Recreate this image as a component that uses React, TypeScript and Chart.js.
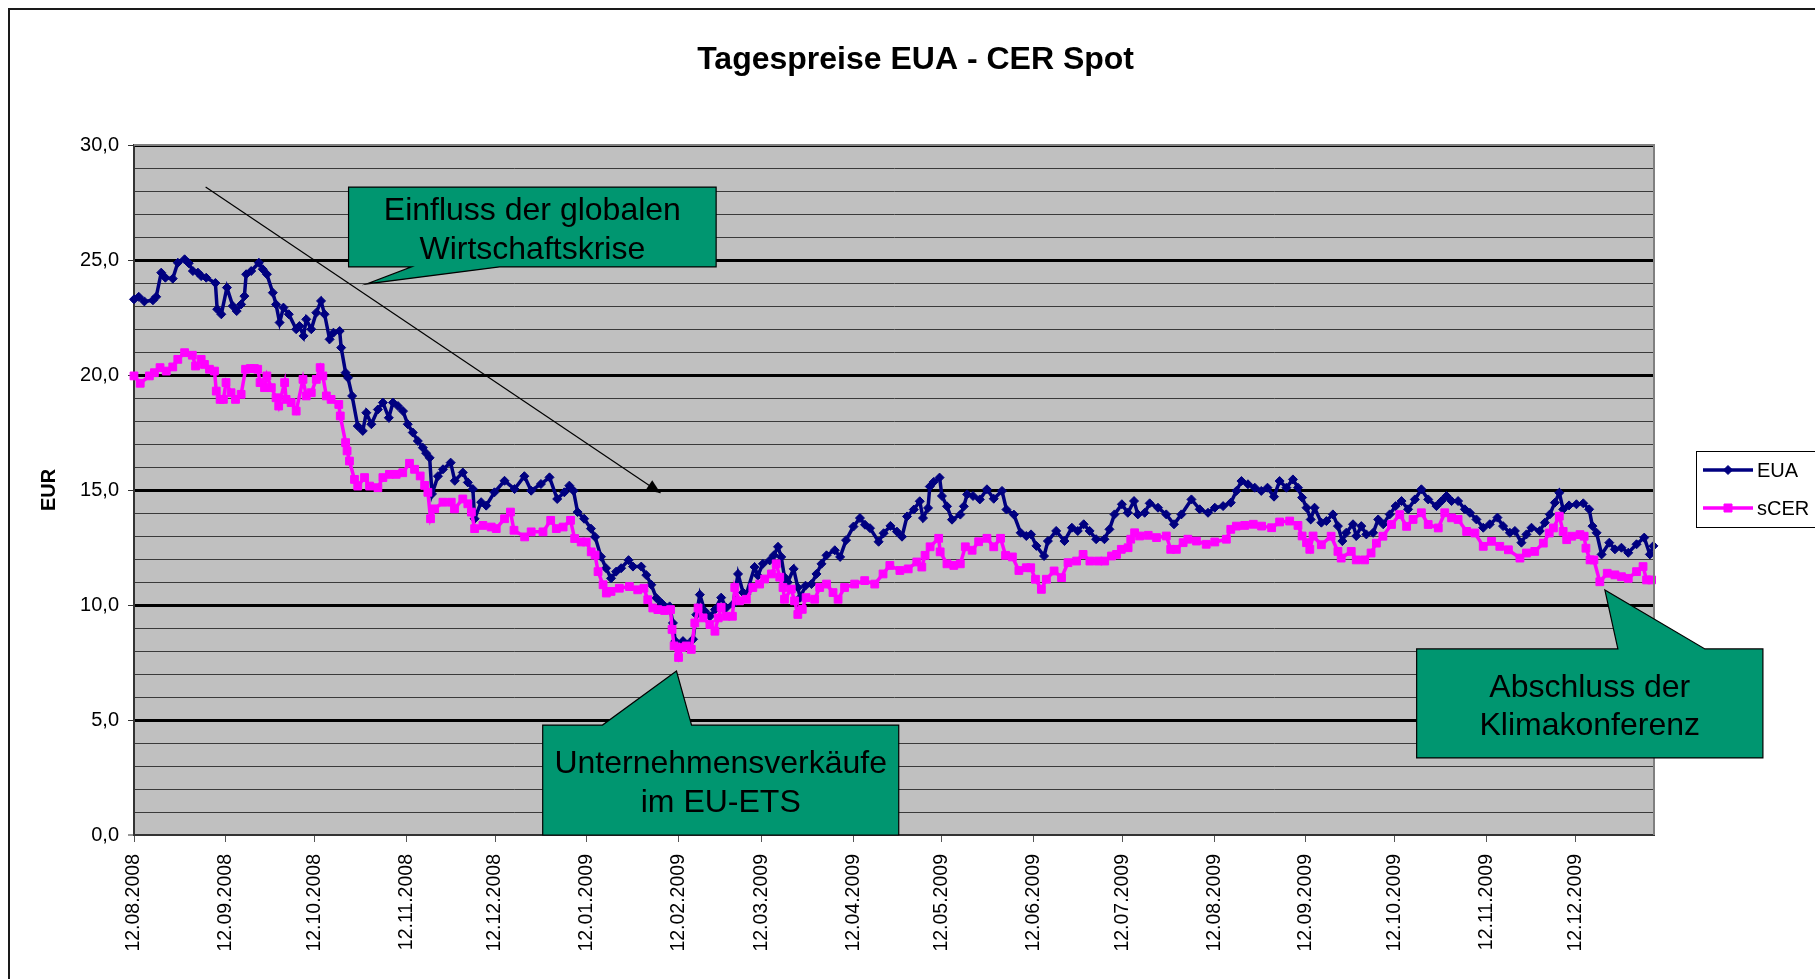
import React, { useEffect, useRef } from 'react';
import { Chart, registerables } from 'chart.js';

Chart.register(...registerables);

// ---------------- data ----------------
const tickLabels = [
  '12.08.2008', '12.09.2008', '12.10.2008', '12.11.2008', '12.12.2008',
  '12.01.2009', '12.02.2009', '12.03.2009', '12.04.2009', '12.05.2009',
  '12.06.2009', '12.07.2009', '12.08.2009', '12.09.2009', '12.10.2009',
  '12.11.2009', '12.12.2009',
];

// days after 12.08.2008
const euaDays = [
  0, 1.6, 3.5, 6.4, 7.5, 9.2, 10.6, 13.1, 14.8, 17.1, 18.5, 19.9, 21.6, 22.7, 24.4, 27.5, 28.1, 29.5, 31.4, 33.4,
  34.7, 36.2, 37.3, 37.9, 39.6, 42.2, 43.5, 44.9, 46.9, 48.0, 49.2, 50.5, 52.3, 54.8, 55.9, 57.3, 58.2, 59.9, 61.6, 63.2,
  64.4, 66.1, 67.4, 69.5, 70.0, 71.5, 72.3, 73.7, 75.6, 77.3, 78.5, 80.2, 82.4, 84.1, 86.1, 87.5, 89.2, 90.9, 92.5, 94.2,
  95.9, 97.6, 98.7, 99.9, 100.7, 102.7, 104.4, 107.0, 108.4, 111.1, 112.8, 114.5, 115.1, 117.3, 119.0, 121.8, 125.2, 128.6, 131.9, 134.2,
  137.5, 140.4, 143.0, 145.4, 147.1, 148.5, 149.9, 152.1, 154.4, 155.8, 157.8, 159.5, 161.2, 162.9, 164.6, 167.1, 168.6, 171.4, 173.1, 174.8,
  176.5, 178.2, 181.0, 182.1, 182.9, 184.4, 185.5, 187.2, 188.9, 190.0, 191.2, 192.9, 194.6, 196.3, 198.4, 200.1, 202.4, 204.1, 205.8, 206.9,
  209.7, 210.8, 212.5, 214.8, 216.2, 217.6, 218.7, 219.8, 220.9, 222.9, 224.3, 225.1, 226.9, 228.9, 230.6, 232.3, 234.0, 236.8, 238.6, 240.6,
  243.1, 245.3, 247.0, 248.7, 251.6, 253.3, 255.6, 257.8, 259.5, 261.2, 263.5, 265.5, 266.6, 268.3, 268.9, 270.2, 272.2, 273.0, 274.7, 276.4,
  279.2, 280.4, 281.5, 283.5, 285.8, 288.2, 290.5, 293.3, 294.8, 297.3, 299.6, 301.5, 303.1, 304.9, 307.5, 308.8, 311.6, 314.4, 316.9, 318.9,
  320.9, 322.9, 325.1, 327.9, 329.6, 331.3, 333.8, 335.8, 337.9, 339.2, 341.5, 343.2, 346.0, 348.8, 351.4, 353.9, 357.3, 360.1, 362.9, 365.2,
  368.0, 370.6, 372.5, 374.2, 376.4, 378.7, 380.9, 383.0, 385.2, 387.1, 389.4, 391.6, 393.3, 394.7, 396.2, 397.6, 398.9, 401.2, 402.9, 405.1,
  406.8, 408.3, 409.6, 411.9, 413.0, 414.7, 416.4, 418.7, 420.4, 422.1, 424.3, 426.3, 428.3, 430.5, 432.8, 435.0, 437.3, 440.1, 441.8, 443.5,
  445.2, 447.4, 449.7, 451.4, 453.6, 455.9, 458.1, 460.7, 462.6, 464.9, 466.6, 468.8, 470.5, 472.2, 475.0, 476.7, 478.4, 480.1, 481.6, 482.9,
  484.9, 487.4, 489.7, 491.7, 492.8, 494.2, 495.9, 498.5, 500.4, 502.6, 504.9, 507.7, 510.3, 512.2, 513.4,
];
const euaValues = [
  23.29, 23.40, 23.20, 23.25, 23.40, 24.45, 24.23, 24.19, 24.88, 25.03, 24.86, 24.52, 24.45, 24.30, 24.23, 24.00, 22.86, 22.64, 23.80, 23.00,
  22.78, 23.07, 23.43, 24.38, 24.52, 24.88, 24.60, 24.38, 23.58, 23.07, 22.28, 22.93, 22.64, 21.99, 22.13, 21.70, 22.42, 21.99, 22.71, 23.22,
  22.64, 21.55, 21.84, 21.91, 21.19, 20.10, 19.88, 19.09, 17.78, 17.57, 18.36, 17.86, 18.50, 18.80, 18.14, 18.80, 18.65, 18.43, 17.86, 17.50,
  17.13, 16.84, 16.60, 16.40, 14.83, 15.60, 15.90, 16.19, 15.40, 15.76, 15.33, 15.04, 13.75, 14.47, 14.32, 14.90, 15.40, 15.04, 15.60, 14.97,
  15.26, 15.55, 14.61, 14.90, 15.19, 14.97, 14.04, 13.75, 13.32, 12.96, 12.10, 11.60, 11.16, 11.45, 11.60, 11.95, 11.67, 11.67, 11.30, 10.88,
  10.30, 10.09, 9.94, 9.22, 8.43, 8.07, 8.43, 8.29, 8.51, 9.58, 10.45, 9.73, 9.51, 9.80, 10.32, 9.88, 10.03, 11.35, 10.54, 10.47,
  11.65, 11.28, 11.79, 11.94, 12.16, 12.53, 12.09, 11.21, 10.99, 11.57, 10.76, 10.32, 10.84, 10.91, 11.35, 11.79, 12.16, 12.38, 12.09, 12.82,
  13.41, 13.78, 13.49, 13.34, 12.75, 13.12, 13.44, 13.19, 12.97, 13.85, 14.15, 14.51, 13.78, 14.22, 15.15, 15.35, 15.54, 14.74, 14.29, 13.71,
  13.93, 14.29, 14.81, 14.74, 14.59, 15.03, 14.62, 14.96, 14.15, 13.93, 13.14, 13.00, 13.07, 12.57, 12.13, 12.78, 13.22, 12.78, 13.36, 13.22,
  13.51, 13.22, 12.86, 12.86, 13.29, 13.94, 14.38, 14.01, 14.52, 13.94, 14.01, 14.42, 14.23, 13.94, 13.51, 13.94, 14.59, 14.16, 14.01, 14.23,
  14.30, 14.45, 14.96, 15.39, 15.25, 15.10, 14.96, 15.10, 14.71, 15.39, 15.10, 15.46, 15.10, 14.67, 14.23, 13.72, 14.23, 13.58, 13.65, 13.94,
  13.43, 12.78, 13.14, 13.51, 13.00, 13.43, 13.07, 13.14, 13.72, 13.51, 13.94, 14.30, 14.52, 14.16, 14.59, 15.03, 14.59, 14.30, 14.52, 14.74,
  14.52, 14.52, 14.16, 14.01, 13.72, 13.36, 13.51, 13.80, 13.43, 13.14, 13.22, 12.71, 13.07, 13.36, 13.22, 13.58, 13.94, 14.45, 14.88, 14.16,
  14.33, 14.38, 14.42, 14.16, 13.43, 13.14, 12.20, 12.71, 12.42, 12.49, 12.27, 12.64, 12.93, 12.20, 12.57,
];

const cerDays = [
  0, 2.1, 5.2, 6.9, 8.8, 10.9, 13.1, 14.8, 17.1, 19.7, 20.8, 22.7, 23.8, 25.5, 27.2, 27.8, 29.1, 30.2, 31.1, 32.8,
  34.3, 36.2, 37.7, 39.3, 40.7, 41.8, 42.6, 44.1, 44.9, 46.4, 48.0, 48.9, 50.9, 51.4, 53.1, 54.8, 57.1, 58.2, 59.9, 61.6,
  62.9, 63.8, 65.0, 66.6, 69.2, 69.7, 71.5, 72.0, 72.8, 74.5, 75.6, 77.9, 79.6, 82.4, 84.1, 86.3, 88.6, 90.8, 93.1, 94.8,
  96.7, 98.2, 99.3, 100.2, 101.6, 104.4, 107.2, 108.3, 111.1, 112.8, 114.0, 115.1, 117.9, 120.7, 122.4, 125.2, 127.2, 128.4, 132.0, 134.2,
  138.2, 140.8, 142.7, 145.0, 147.5, 148.9, 151.1, 152.8, 154.5, 155.8, 156.8, 158.5, 159.6, 161.2, 164.0, 167.4, 170.2, 172.3, 173.6, 175.3,
  177.0, 179.3, 181.3, 181.8, 182.5, 184.0, 185.0, 186.6, 188.3, 189.5, 190.6, 192.3, 194.6, 196.3, 197.4, 198.4, 200.1, 202.2, 203.0, 204.6,
  206.9, 209.1, 211.4, 213.1, 215.4, 217.0, 218.2, 219.3, 219.8, 222.1, 223.2, 224.3, 225.8, 227.1, 230.0, 231.7, 234.0, 236.2, 237.9, 240.1,
  243.5, 246.9, 250.3, 253.1, 255.4, 258.8, 261.6, 264.5, 266.2, 267.3, 269.0, 271.9, 272.4, 274.7, 277.0, 279.2, 280.9, 283.2, 285.4, 288.2,
  290.5, 292.8, 294.5, 296.8, 299.0, 301.5, 303.0, 304.6, 306.6, 308.3, 310.9, 313.4, 315.6, 318.5, 320.7, 323.0, 325.8, 328.0, 330.3, 332.0,
  333.6, 335.9, 336.8, 338.1, 339.8, 342.7, 345.5, 348.8, 350.3, 352.2, 354.5, 356.1, 359.0, 362.3, 365.2, 369.1, 370.6, 372.5, 375.3, 378.2,
  381.0, 384.4, 387.1, 390.5, 393.3, 394.7, 396.2, 397.3, 398.4, 401.2, 404.5, 406.8, 407.9, 411.3, 413.0, 415.8, 418.0, 419.8, 422.0, 424.9,
  427.7, 430.0, 432.2, 435.0, 437.3, 440.7, 442.9, 445.2, 447.4, 450.3, 453.1, 455.9, 458.7, 461.5, 464.4, 468.3, 470.5, 473.3, 476.2, 478.2,
  479.6, 481.6, 482.9, 484.1, 485.8, 488.6, 490.0, 490.6, 492.0, 493.3, 495.3, 497.8, 500.4, 502.6, 504.9, 507.7, 509.9, 511.1, 512.8,
];
const cerValues = [
  19.96, 19.64, 19.96, 20.10, 20.32, 20.17, 20.35, 20.68, 20.97, 20.86, 20.39, 20.68, 20.46, 20.25, 20.17, 19.30, 18.94, 18.94, 19.67, 19.23,
  18.94, 19.16, 20.25, 20.28, 20.28, 20.25, 19.67, 19.45, 19.96, 19.45, 19.01, 18.65, 19.67, 18.94, 18.80, 18.43, 19.81, 19.09, 19.23, 19.81,
  20.32, 19.96, 19.09, 18.94, 18.72, 18.22, 17.06, 16.70, 16.26, 15.46, 15.17, 15.54, 15.17, 15.10, 15.54, 15.68, 15.68, 15.75, 16.16, 15.90,
  15.61, 15.20, 14.90, 13.75, 14.18, 14.47, 14.47, 14.18, 14.61, 14.40, 14.04, 13.32, 13.46, 13.39, 13.32, 13.75, 14.04, 13.25, 12.96, 13.18,
  13.18, 13.68, 13.32, 13.39, 13.68, 12.89, 12.74, 12.74, 12.31, 12.17, 11.45, 10.88, 10.52, 10.59, 10.73, 10.80, 10.66, 10.73, 10.23, 9.87,
  9.80, 9.76, 9.80, 8.94, 8.22, 7.72, 8.15, 8.22, 8.07, 9.22, 9.87, 9.44, 9.15, 8.86, 9.44, 9.90, 9.51, 9.51, 10.76, 10.18,
  10.25, 10.76, 10.91, 11.13, 11.35, 11.79, 11.21, 10.76, 10.25, 10.69, 10.18, 9.59, 9.81, 10.32, 10.25, 10.76, 10.91, 10.54, 10.25, 10.76,
  10.91, 11.06, 10.91, 11.35, 11.72, 11.50, 11.57, 11.87, 11.65, 12.16, 12.53, 12.90, 12.31, 11.79, 11.72, 11.79, 12.53, 12.38, 12.75, 12.90,
  12.53, 12.90, 12.16, 12.09, 11.50, 11.62, 11.62, 11.12, 10.68, 11.12, 11.48, 11.19, 11.84, 11.91, 12.20, 11.91, 11.91, 11.91, 12.13, 12.20,
  12.42, 12.49, 12.86, 13.14, 13.00, 13.03, 12.93, 13.00, 12.42, 12.42, 12.71, 12.86, 12.78, 12.64, 12.74, 12.86, 13.29, 13.43, 13.46, 13.51,
  13.43, 13.36, 13.61, 13.65, 13.46, 13.00, 12.71, 12.42, 13.00, 12.62, 12.99, 12.33, 12.04, 12.33, 11.96, 11.96, 12.26, 12.69, 12.99, 13.50,
  13.93, 13.42, 13.72, 14.01, 13.50, 13.35, 14.01, 13.79, 13.72, 13.20, 13.13, 12.55, 12.77, 12.55, 12.40, 12.04, 12.26, 12.33, 12.69, 13.13,
  13.35, 13.86, 13.20, 12.84, 12.99, 13.06, 12.99, 12.47, 11.96, 11.96, 11.01, 11.38, 11.31, 11.23, 11.16, 11.45, 11.67, 11.09, 11.09,
];

const seriesNames = ['EUA', 'sCER'];

// ---------------- styling / layout ----------------
const FONT = "'Liberation Sans', Arial, sans-serif";
const EUA_COLOR = '#000080';
const CER_COLOR = '#FF00FF';
const CALLOUT_FILL = '#009670';
const PLOT_BG = '#C0C0C0';

const W = 1815;
const H = 979;
const X_MAX = 513.6;

function dayOffset(label: string): number {
  const [d, m, y] = label.split('.').map(Number);
  const base = Date.UTC(2008, 7, 12);
  return Math.round((Date.UTC(y, m - 1, d) - base) / 86400000);
}
const tickDays = tickLabels.map(dayOffset);

// annotations in data coordinates (day offset, EUR)
const callouts = [
  {
    lines: ['Einfluss der globalen', 'Wirtschaftskrise'],
    left: 72.5, right: 196.7, top: 28.17, bottom: 24.7,
    edge: 'bottom', baseA: 93.8, baseB: 123.5, tipX: 78.6, tipY: 23.96,
  },
  {
    lines: ['Unternehmensverkäufe', 'im EU-ETS'],
    left: 138.1, right: 258.4, top: 4.78, bottom: 0.0,
    edge: 'top', baseA: 158.3, baseB: 188.4, tipX: 183.3, tipY: 7.13,
  },
  {
    lines: ['Abschluss der', 'Klimakonferenz'],
    left: 433.4, right: 550.4, top: 8.09, bottom: 3.35,
    edge: 'top', baseA: 501.4, baseB: 530.8, tipX: 497.0, tipY: 10.65,
  },
];
const arrow = { fromX: 24.2, fromY: 28.17, toX: 177.9, toY: 14.87 };

function drawMarker(ctx: CanvasRenderingContext2D, style: string, x: number, y: number, color: string) {
  ctx.save();
  ctx.fillStyle = color;
  ctx.strokeStyle = color;
  ctx.lineWidth = 1;
  ctx.beginPath();
  if (style === 'rectRot') {
    const r = 4.5;
    ctx.moveTo(x - r, y);
    ctx.lineTo(x, y - r);
    ctx.lineTo(x + r, y);
    ctx.lineTo(x, y + r);
    ctx.closePath();
  } else {
    const s = 4;
    ctx.rect(x - s, y - s, 2 * s, 2 * s);
  }
  ctx.fill();
  ctx.stroke();
  ctx.restore();
}

const decorPlugin = {
  id: 'decor',
  beforeDraw(chart: any) {
    const { ctx, chartArea: a } = chart;
    ctx.save();
    ctx.fillStyle = '#ffffff';
    ctx.fillRect(0, 0, chart.width, chart.height);
    ctx.fillStyle = PLOT_BG;
    ctx.fillRect(a.left, a.top, a.right - a.left, a.bottom - a.top);
    // outer chart frame
    ctx.strokeStyle = '#1a1a1a';
    ctx.lineWidth = 2;
    ctx.beginPath();
    ctx.moveTo(9, chart.height + 5);
    ctx.lineTo(9, 9);
    ctx.lineTo(chart.width + 5, 9);
    ctx.stroke();
    // title
    ctx.fillStyle = '#000';
    ctx.font = `bold 32px ${FONT}`;
    ctx.textAlign = 'center';
    ctx.textBaseline = 'middle';
    ctx.fillText('Tagespreise EUA - CER Spot', 915.6, 60.5);
    ctx.restore();
  },
  afterDraw(chart: any) {
    const { ctx, chartArea: a } = chart;
    const xs = chart.scales.x;
    const ys = chart.scales.y;
    const px = (v: number) => xs.getPixelForValue(v);
    const py = (v: number) => ys.getPixelForValue(v);
    ctx.save();
    // plot area border (right/top)
    ctx.strokeStyle = '#808080';
    ctx.lineWidth = 2;
    ctx.beginPath();
    ctx.moveTo(a.left, a.top);
    ctx.lineTo(a.right, a.top);
    ctx.lineTo(a.right, a.bottom);
    ctx.stroke();

    // arrow
    const x1 = px(arrow.fromX), y1 = py(arrow.fromY), x2 = px(arrow.toX), y2 = py(arrow.toY);
    ctx.strokeStyle = '#000';
    ctx.lineWidth = 1.2;
    ctx.beginPath();
    ctx.moveTo(x1, y1);
    ctx.lineTo(x2, y2);
    ctx.stroke();
    const ang = Math.atan2(y2 - y1, x2 - x1);
    const hl = 14, hw = 6;
    ctx.fillStyle = '#000';
    ctx.beginPath();
    ctx.moveTo(x2, y2);
    ctx.lineTo(x2 - hl * Math.cos(ang) + hw * Math.sin(ang), y2 - hl * Math.sin(ang) - hw * Math.cos(ang));
    ctx.lineTo(x2 - hl * Math.cos(ang) - hw * Math.sin(ang), y2 - hl * Math.sin(ang) + hw * Math.cos(ang));
    ctx.closePath();
    ctx.fill();

    // callouts
    for (const c of callouts) {
      const L = px(c.left), R = px(c.right), T = py(c.top), B = py(c.bottom);
      const A = px(c.baseA), Bb = px(c.baseB), TX = px(c.tipX), TY = py(c.tipY);
      ctx.beginPath();
      if (c.edge === 'bottom') {
        ctx.moveTo(L, T);
        ctx.lineTo(R, T);
        ctx.lineTo(R, B);
        ctx.lineTo(Bb, B);
        ctx.lineTo(TX, TY);
        ctx.lineTo(A, B);
        ctx.lineTo(L, B);
      } else {
        ctx.moveTo(L, T);
        ctx.lineTo(A, T);
        ctx.lineTo(TX, TY);
        ctx.lineTo(Bb, T);
        ctx.lineTo(R, T);
        ctx.lineTo(R, B);
        ctx.lineTo(L, B);
      }
      ctx.closePath();
      ctx.fillStyle = CALLOUT_FILL;
      ctx.fill();
      ctx.strokeStyle = '#000';
      ctx.lineWidth = 1.2;
      ctx.stroke();
      ctx.fillStyle = '#000';
      ctx.font = `32px ${FONT}`;
      ctx.textAlign = 'center';
      ctx.textBaseline = 'middle';
      const cx = (L + R) / 2;
      const cy = (T + B) / 2 + 3.5;
      const lh = 38.5;
      c.lines.forEach((t, i) => {
        ctx.fillText(t, cx, cy + (i - (c.lines.length - 1) / 2) * lh);
      });
    }

    // legend
    ctx.fillStyle = '#fff';
    ctx.fillRect(1696.5, 451.5, 140, 76);
    ctx.strokeStyle = '#000';
    ctx.lineWidth = 1;
    ctx.strokeRect(1696.5, 451.5, 140, 76);
    const rows = [
      { label: seriesNames[0], color: EUA_COLOR, style: 'rectRot', y: 470 },
      { label: seriesNames[1], color: CER_COLOR, style: 'rect', y: 508 },
    ];
    for (const r of rows) {
      ctx.strokeStyle = r.color;
      ctx.lineWidth = 3.5;
      ctx.beginPath();
      ctx.moveTo(1703, r.y);
      ctx.lineTo(1753, r.y);
      ctx.stroke();
      drawMarker(ctx, r.style, 1728, r.y, r.color);
      ctx.fillStyle = '#000';
      ctx.font = `20px ${FONT}`;
      ctx.textAlign = 'left';
      ctx.textBaseline = 'middle';
      ctx.fillText(r.label, 1757, r.y + 1);
    }
    ctx.restore();
  },
};

export default function App() {
  const ref = useRef<HTMLCanvasElement>(null);
  useEffect(() => {
    const canvas = ref.current;
    if (!canvas) return;
    Chart.defaults.font.family = FONT;
    const chart = new Chart(canvas, {
      type: 'line',
      data: {
        datasets: [
          {
            label: seriesNames[0],
            data: euaDays.map((d, i) => ({ x: d, y: euaValues[i] })),
            borderColor: EUA_COLOR,
            backgroundColor: EUA_COLOR,
            borderWidth: 3.5,
            pointStyle: 'rectRot',
            pointRadius: 4.5,
            pointBorderWidth: 1,
            pointBackgroundColor: EUA_COLOR,
            pointBorderColor: EUA_COLOR,
            tension: 0,
            clip: false,
            order: 1,
          },
          {
            label: seriesNames[1],
            data: cerDays.map((d, i) => ({ x: d, y: cerValues[i] })),
            borderColor: CER_COLOR,
            backgroundColor: CER_COLOR,
            borderWidth: 3.5,
            pointStyle: 'rect',
            pointRadius: 5.5,
            pointBorderWidth: 1,
            pointBackgroundColor: CER_COLOR,
            pointBorderColor: CER_COLOR,
            tension: 0,
            clip: false,
            order: 0,
          },
        ],
      },
      options: {
        animation: false,
        responsive: false,
        devicePixelRatio: 1,
        events: [],
        layout: { padding: { left: 0, top: 145, right: W - 1654, bottom: 14 } },
        plugins: {
          legend: { display: false },
          title: { display: false },
          tooltip: { enabled: false },
        },
        scales: {
          x: {
            type: 'linear',
            min: 0,
            max: X_MAX,
            afterBuildTicks: (scale: any) => {
              scale.ticks = tickDays.map((v) => ({ value: v }));
            },
            afterFit: (scale: any) => {
              scale.height = 130;
            },
            ticks: {
              autoSkip: false,
              maxRotation: 90,
              minRotation: 90,
              padding: 12,
              color: '#000',
              font: { size: 19.5, family: FONT },
              callback: (_v: any, i: number) => tickLabels[i],
            },
            grid: {
              drawOnChartArea: false,
              drawTicks: true,
              tickLength: 7,
              color: '#555',
              lineWidth: 1,
            },
            border: { display: true, color: '#333', width: 2 },
          },
          y: {
            type: 'linear',
            min: 0,
            max: 30,
            afterFit: (scale: any) => {
              scale.width = 134;
            },
            ticks: {
              stepSize: 1,
              autoSkip: false,
              padding: 9,
              color: '#000',
              font: { size: 20, family: FONT },
              callback: (v: any) => (Number(v) % 5 === 0 ? Number(v).toFixed(1).replace('.', ',') : ''),
            },
            grid: {
              drawOnChartArea: true,
              drawTicks: true,
              tickLength: 6,
              color: (c: any) => (c.tick && c.tick.value % 5 === 0 ? '#000' : '#3a3a3a'),
              lineWidth: (c: any) => (c.tick && c.tick.value === 0 ? 2 : c.tick && c.tick.value % 5 === 0 ? 3 : 1),
              tickColor: (c: any) => (c.tick && c.tick.value % 5 === 0 ? '#333' : 'rgba(0,0,0,0)'),
              tickWidth: 1,
            },
            border: { display: true, color: '#333', width: 2 },
            title: {
              display: true,
              text: 'EUR',
              color: '#000',
              font: { size: 20, weight: 'bold', family: FONT },
              padding: { top: 37, bottom: 0 },
            },
          },
        },
      },
      plugins: [decorPlugin],
    } as any);
    return () => chart.destroy();
  }, []);

  return (
    <div style={{ position: 'absolute', left: 0, top: 0, width: W, height: H, background: '#fff' }}>
      <canvas ref={ref} width={W} height={H} style={{ display: 'block', width: W, height: H }} />
    </div>
  );
}
